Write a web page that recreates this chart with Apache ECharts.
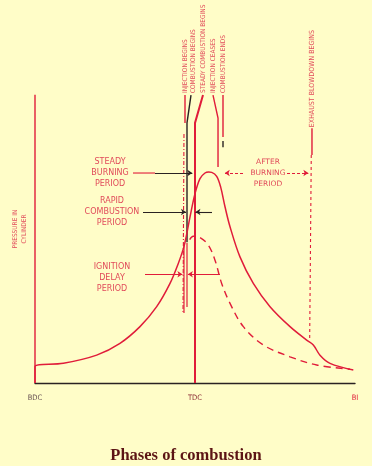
<!DOCTYPE html>
<html>
<head>
<meta charset="utf-8">
<script src="https://cdn.jsdelivr.net/npm/echarts@6/dist/echarts.min.js"></script>
<style>
html,body{margin:0;padding:0;background:#fffdc8;}
#c{width:372px;height:466px;}
</style>
</head>
<body>
<div id="c"></div>
<script>
// ---- data (crank angle in degrees, pressure in arbitrary units) ----
const firedAngle    = [-180, -180, -148, -110.6, -84.4, -61.9, -43.1, -28.1, -18.8, -12, -5.6, 0, 5.6, 11.25, 15.5, 18.8, 24.4, 28.9, 33.75, 39.4, 50.6, 65.6, 84.4, 106.9, 125.6, 133.1, 140.6, 151.9, 178.1];
const firedPressure = [0, 5, 6, 8.5, 12.1, 17.2, 23.3, 30.4, 36.5, 42.1, 50.7, 57.8, 62.4, 64.1, 64.4, 64.3, 63.1, 59.8, 53.8, 47.7, 38.5, 30.4, 23.3, 17.2, 13.1, 11.6, 8.5, 6, 4];
const motoredAngle    = [-6, -2, 5.6, 15, 22.5, 30, 39.4, 54.4, 76.9, 106.9, 136.9, 174.4];
const motoredPressure = [43.8, 44.8, 44.4, 42.1, 37.5, 30.4, 24.3, 17.2, 11.6, 8, 5.5, 4.2];
const tickAngles = [-180, 0, 180];
const tickLabels = ['BDC', 'TDC', 'BI'];
const eventNames  = ['INJECTION BEGINS', 'COMBUSTION BEGINS', 'STEADY COMBUSTION BEGINS', 'INJECTION CEASES', 'COMBUSTION ENDS', 'EXHAUST BLOWDOWN BEGINS'];
const eventAngles = [-11.25, -9, 0, 25.9, 31.5, 129];
const periodNames = ['STEADY\nBURNING\nPERIOD', 'RAPID\nCOMBUSTION\nPERIOD', 'IGNITION\nDELAY\nPERIOD', 'AFTER\nBURNING\nPERIOD'];
const yTitle = 'PRESSURE IN\nCYLINDER';
const chartTitle = 'Phases of combustion';

// ---- styling / layout ----
const RED = '#e01c3a';
const BLACK = '#2a2222';
const TXTRED = '#d81a3c';
const LBL_FONT = '"DejaVu Sans Condensed","Liberation Sans Narrow","DejaVu Sans",sans-serif';

const pair = (xs, ys) => xs.map((x, i) => [x, ys[i]]);

function seg(coords, color, width, type) {
  return { coords: coords, lineStyle: { color: color, width: width || 1.3, type: type || 'solid', opacity: 1 } };
}
// event marker lines (drawn in data space)
const markerLines = [
  seg([[-180, 88], [-180, 0]], RED, 1.4),
  seg([[eventAngles[0], 87.9], [eventAngles[0], 79.4]], RED, 1.4),
  seg([[-12.4, 76], [-13.5, 21.4]], RED, 1.1, [4, 2, 1, 2]),
  seg([[-4.5, 87.9], [eventAngles[1], 79.4], [eventAngles[1], 43]], BLACK, 1.4),
  seg([[-12.4, 42.7], [-12.4, 21.4]], RED, 1.2),
  seg([[eventAngles[1], 42.7], [eventAngles[1], 23.2]], RED, 1.2),
  seg([[9, 87.9], [eventAngles[2], 79.4], [eventAngles[2], 0]], RED, 2),
  seg([[20.25, 87.9], [eventAngles[3], 80.9], [eventAngles[3], 65.9]], RED, 1.4),
  seg([[eventAngles[4], 87.9], [eventAngles[4], 75.1]], RED, 1.4),
  seg([[eventAngles[4], 73.9], [eventAngles[4], 72]], BLACK, 1.4),
  seg([[131.6, 77.8], [131.6, 69.6]], RED, 1.4),
  seg([[130.8, 69.6], [eventAngles[5], 13.1]], RED, 1.1, [3, 3])
];
const arrowLines = [
  seg([[-45, 64.1], [-3, 64.1]], BLACK, 1.1),
  seg([[-58.5, 52.2], [-10.1, 52.2]], BLACK, 1.1),
  seg([[19.1, 52.2], [0.5, 52.2]], BLACK, 1.1),
  seg([[-56.25, 33.2], [-14.2, 33.2]], RED, 1.1),
  seg([[28.1, 33.2], [-8, 33.2]], RED, 1.1),
  seg([[54, 64.1], [33.5, 64.1]], RED, 1, [3, 2]),
  seg([[103.5, 64.1], [127.5, 64.1]], RED, 1, [3, 2])
];
const plainLines = [
  seg([[-69.75, 64.1], [-45, 64.1]], RED, 1.1)
];

function txt(x, y, text, label) {
  return { value: [x, y], label: Object.assign({ show: true, formatter: text }, label) };
}
const evLabel = { position: [0, 0], rotate: 90, align: 'left', verticalAlign: 'middle',
  fontSize: 6.5, color: TXTRED, fontFamily: LBL_FONT };
const pdLabel = { position: [0, 0], align: 'center', verticalAlign: 'middle',
  fontSize: 8, lineHeight: 11, color: TXTRED, fontFamily: '"DejaVu Sans",sans-serif' };
const labelPoints = [
  txt(eventAngles[0], 88.5, eventNames[0], evLabel),
  txt(-2.25, 88.5, eventNames[1], evLabel),
  txt(9, 88.5, eventNames[2], evLabel),
  txt(20.25, 88.5, eventNames[3], evLabel),
  txt(31.5, 88.5, eventNames[4], evLabel),
  txt(131.6, 78.1, eventNames[5], Object.assign({}, evLabel, { fontSize: 7 })),
  txt(-95.6, 64.1, periodNames[0], pdLabel),
  txt(-93.4, 52.2, periodNames[1], pdLabel),
  txt(-93.4, 32.2, periodNames[2], pdLabel),
  txt(82.1, 64.1, periodNames[3], Object.assign({}, pdLabel, { fontSize: 7.5 })),
  txt(-197, 47, yTitle, { position: [0, 0], rotate: 90, align: 'center', verticalAlign: 'middle',
    fontSize: 6.5, lineHeight: 8.5, color: TXTRED, fontFamily: LBL_FONT })
];

const chart = echarts.init(document.getElementById('c'), null, { renderer: 'canvas' });
chart.setOption({
  backgroundColor: '#fffdc8',
  animation: false,
  title: {
    text: chartTitle, left: 'center', top: 442,
    textStyle: { fontFamily: '"Liberation Serif","DejaVu Serif",serif', fontWeight: 'bold', fontSize: 16.5, color: '#5c1414' }
  },
  grid: { left: 35, right: 17, top: 3, bottom: 83, containLabel: false },
  xAxis: {
    type: 'value', min: -180, max: 180, interval: 180,
    splitLine: { show: false },
    axisTick: { show: false },
    axisLine: { show: true, lineStyle: { color: BLACK, width: 1.4 } },
    axisLabel: {
      margin: 11, showMinLabel: true, showMaxLabel: true,
      formatter: v => {
        const i = tickAngles.indexOf(v);
        return i < 0 ? '' : '{s' + i + '|' + tickLabels[i] + '}';
      },
      rich: {
        s0: { color: '#6a5454', fontSize: 7.5, fontFamily: LBL_FONT },
        s1: { color: '#8a2a34', fontSize: 7.5, fontFamily: LBL_FONT },
        s2: { color: '#e0203c', fontSize: 7.5, fontFamily: LBL_FONT }
      }
    }
  },
  yAxis: { type: 'value', min: 0, max: 116, show: false, splitLine: { show: false } },
  series: [
    {
      name: 'fired', type: 'line', data: pair(firedAngle, firedPressure), smooth: 0.35,
      showSymbol: false, symbol: 'none', clip: false, z: 4,
      lineStyle: { color: RED, width: 1.5 }
    },
    {
      name: 'motored', type: 'line', data: pair(motoredAngle, motoredPressure), smooth: 0.35,
      showSymbol: false, symbol: 'none', clip: false,
      lineStyle: { color: RED, width: 1.4, type: [7, 5] }
    },
    {
      name: 'markers', type: 'lines', coordinateSystem: 'cartesian2d', polyline: true, clip: false,
      symbol: 'none', silent: true, data: markerLines.concat(plainLines), z: 3,
      lineStyle: { opacity: 1 }
    },
    {
      name: 'arrows', type: 'lines', coordinateSystem: 'cartesian2d', polyline: false, clip: false,
      symbol: ['none', 'arrow'], symbolSize: 5, silent: true, data: arrowLines, z: 3,
      lineStyle: { opacity: 1 }
    },
    {
      name: 'labels', type: 'scatter', symbolSize: 0, silent: true, clip: false,
      data: labelPoints, z: 4
    }
  ]
});
</script>
</body>
</html>
